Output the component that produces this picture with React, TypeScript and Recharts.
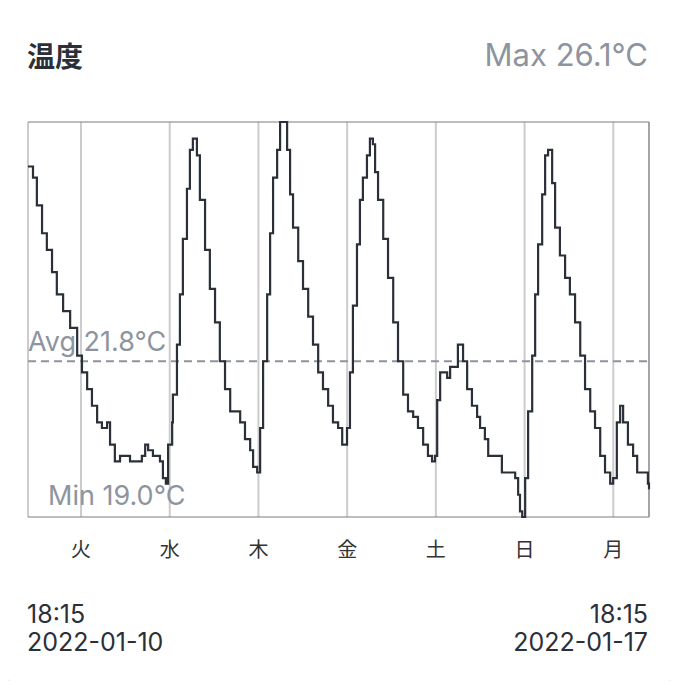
import React from "react";
import {
    LineChart,
    Line,
    XAxis,
    YAxis,
    CartesianGrid,
    ReferenceLine,
    Label,
} from "recharts";

// hours since 2022-01-10 18:15
const hours = [
    0, 1.35, 2.4, 3.8, 5.1, 6.5, 7.8, 9.5, 11.4, 13.3, 14.6, 16.0, 17.3, 18.7, 20.0, 21.4, 22.2, 23.5,
    24.9, 26.8, 27.6, 30.3, 30.8, 31.7, 32.5, 33.8, 35.2, 35.7, 36.5, 37.3, 37.9, 39.0, 39.2, 40.3,
    41.1, 41.9, 43.0, 43.8, 44.6, 45.7, 46.5, 47.9, 49.2, 50.6, 51.9, 53.3, 54.7, 56.0, 57.4, 58.7,
    60.1, 60.9, 62.0, 62.8, 63.6, 64.7, 65.5, 66.3, 67.4, 68.2, 69.0, 70.1, 70.9, 71.7, 73.1, 74.4,
    75.8, 77.1, 78.5, 79.8, 81.2, 82.5, 83.9, 85.0, 85.8, 86.3, 87.1, 87.9, 89.0, 89.8, 90.6, 91.7,
    92.5, 93.3, 93.9, 94.7, 96.1, 97.4, 98.8, 100.1, 101.5, 102.8, 104.2, 105.5, 106.9, 108.2, 109.3,
    110.1, 110.7, 111.5, 112.6, 113.4, 114.2, 115.5, 116.3, 117.4, 117.7, 118.8, 120.1, 121.5, 122.3,
    123.6, 124.5, 127.2, 128.2, 130.4, 131.8, 132.6, 133.1, 133.7, 134.5, 135.3, 136.4, 137.2, 138.0,
    139.1, 139.9, 140.7, 141.8, 142.6, 143.9, 145.3, 146.6, 148.0, 149.4, 150.7, 152.1, 153.4, 154.8,
    156.1, 157.5, 158.3, 159.3, 160.2, 161.0, 162.3, 163.7, 164.8, 166.9, 167.7, 168,
];

const temps = [
    25.3, 25.1, 24.6, 24.1, 23.8, 23.4, 23.0, 22.7, 22.4, 21.9, 21.6, 21.3, 21.0, 20.7, 20.6, 20.7, 20.3, 20.0,
    20.1, 20.1, 20.0, 20.0, 20.1, 20.3, 20.2, 20.1, 20.1, 20.0, 19.7, 19.6, 20.3, 20.7, 21.2, 22.1,
    23.0, 24.0, 24.9, 25.6, 25.8, 25.5, 24.7, 23.8, 23.1, 22.5, 21.8, 21.3, 20.9, 20.9, 20.7, 20.4,
    20.2, 19.9, 19.8, 20.6, 21.8, 23.0, 24.1, 25.1, 25.6, 26.1, 26.1, 25.6, 24.8, 24.2, 23.6, 23.1,
    22.6, 22.1, 21.6, 21.3, 21.0, 20.7, 20.6, 20.3, 20.3, 20.6, 21.6, 22.8, 23.9, 24.7, 25.1, 25.5,
    25.8, 25.7, 25.2, 24.7, 24.0, 23.3, 22.5, 21.8, 21.2, 20.9, 20.8, 20.6, 20.3, 20.1, 20.0,
    20.1, 21.1, 21.6, 21.6, 21.5, 21.7, 21.7, 22.1, 22.1, 21.8, 21.3, 21.0, 20.8, 20.6,
    20.4, 20.1, 20.1, 19.8, 19.8, 19.7, 19.4, 19.1, 19.0, 19.7, 20.9, 21.9, 23.0, 23.9,
    24.8, 25.5, 25.6, 25.0, 24.2, 23.7, 23.3, 23.0, 22.5, 21.9, 21.3, 20.9, 20.6, 20.1,
    19.8, 19.6, 19.7, 20.7, 21.0, 20.7, 20.3, 20.1, 19.8, 19.8, 19.6, 19.5,
];

const dayTicks = [14.34, 38.34, 62.34, 86.34, 110.34, 134.34, 158.34];
const dayLabels = ["火", "水", "木", "金", "土", "日", "月"];

const MAX = 26.1;
const MIN = 19.0;
const AVG = 21.8;

const GRAY = "#8e949e";
const DARK = "#2b2f38";

const data = hours.map((h, i) => ({ h, t: temps[i] }));

export default function App() {
    return (
        <div style={{ position: "relative", width: 679, height: 689, background: "#f0f0f0", margin: -8, fontFamily: "Inter" }}>
            <div
                style={{
                    position: "absolute",
                    left: 0,
                    top: 0,
                    width: 679,
                    height: 684,
                    background: "#fff",
                    borderRadius: "0 22px 22px 22px",
                }}
            >
                <div
                    style={{
                        position: "absolute",
                        left: 27,
                        top: 41,
                        fontFamily: "Noto Sans CJK JP",
                        fontWeight: 700,
                        fontSize: 28,
                        lineHeight: "28px",
                        color: DARK,
                    }}
                >
                    温度
                </div>
                <div
                    style={{
                        position: "absolute",
                        right: 31,
                        top: 39,
                        fontSize: 31,
                        lineHeight: "31px",
                        color: GRAY,
                    }}
                >
                    Max {MAX.toFixed(1)}°C
                </div>

                <div style={{ position: "absolute", left: 0, top: 0 }}>
                    <LineChart width={679} height={580} data={data} margin={{ top: 122, right: 30, bottom: 33, left: 28 }}>
                        <CartesianGrid horizontal={false} stroke="#cccccc" strokeWidth={2} />
                        <XAxis
                            dataKey="h"
                            type="number"
                            domain={[0, 168]}
                            ticks={dayTicks}
                            tickFormatter={(v, i) => dayLabels[i]}
                            axisLine={false}
                            tickLine={false}
                            tickMargin={20}
                            height={30}
                            tick={{ fill: "#333", fontSize: 20, fontFamily: "Noto Sans CJK JP" }}
                        />
                        <YAxis hide type="number" domain={[MIN, MAX]} />
                        <ReferenceLine y={MAX} stroke="#7d7d7d" strokeWidth={1} />
                        <ReferenceLine y={MIN} stroke="#7d7d7d" strokeWidth={1} />
                        <ReferenceLine x={168} stroke="#7d7d7d" strokeWidth={1} />
                        <ReferenceLine y={AVG} stroke={GRAY} strokeWidth={2} strokeDasharray="8 5">
                            <Label
                                content={({ viewBox }: any) => (
                                    <text x={viewBox.x} y={viewBox.y - 10} fill={GRAY} fontSize={27} fontFamily="Inter">
                                        Avg {AVG.toFixed(1)}°C
                                    </text>
                                )}
                            />
                        </ReferenceLine>
                        <ReferenceLine y={MIN} stroke="none">
                            <Label
                                content={({ viewBox }: any) => (
                                    <text x={viewBox.x + 20} y={viewBox.y - 12} fill={GRAY} fontSize={27} fontFamily="Inter">
                                        Min {MIN.toFixed(1)}°C
                                    </text>
                                )}
                            />
                        </ReferenceLine>
                        <Line
                            type="stepAfter"
                            dataKey="t"
                            stroke={DARK}
                            strokeWidth={2.2}
                            dot={false}
                            isAnimationActive={false}
                        />
                    </LineChart>
                </div>

                <div style={{ position: "absolute", left: 27, top: 600, fontSize: 25, lineHeight: "28px", color: DARK }}>
                    18:15
                    <br />
                    2022-01-10
                </div>
                <div
                    style={{
                        position: "absolute",
                        right: 31,
                        top: 600,
                        fontSize: 25,
                        lineHeight: "28px",
                        color: DARK,
                        textAlign: "right",
                    }}
                >
                    18:15
                    <br />
                    2022-01-17
                </div>
            </div>
        </div>
    );
}
